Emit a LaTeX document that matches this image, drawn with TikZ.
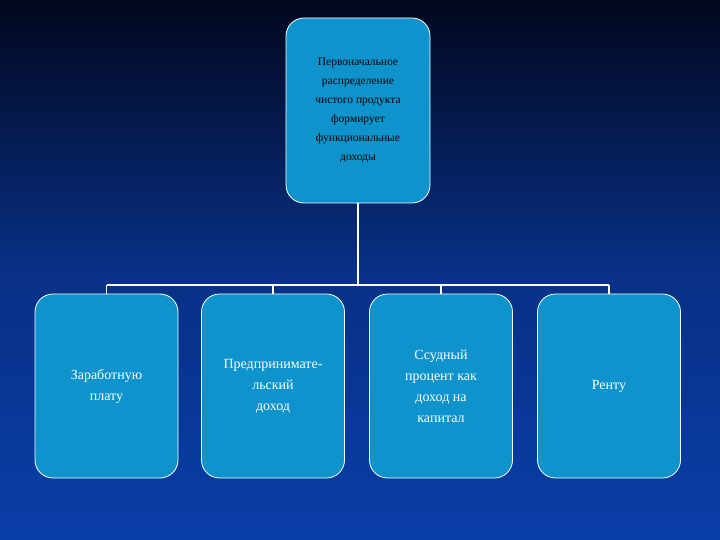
\documentclass[tikz,border=0pt]{standalone}
\usepackage{fontspec}
\setmainfont{Liberation Serif}
\begin{document}
\begin{tikzpicture}[x=1pt,y=-1pt,
 box/.style={draw=white,line width=0.8pt,fill=boxfill,rounded corners=18pt,align=center,inner sep=0pt},
 conn/.style={draw=white,line width=1.3pt}]
\definecolor{boxfill}{HTML}{0E93CC}
\definecolor{bgtop}{HTML}{02071E}
\definecolor{bgbot}{HTML}{0A3EA8}
\shade[top color=bgtop,bottom color=bgbot,middle color=bgbot!75!bgtop,shading angle=0] (0,0) rectangle (720,540);
\useasboundingbox (0,0) rectangle (720,540);
\node[box,minimum width=144pt,minimum height=185pt,font=\fontsize{11.5}{19}\selectfont,text=black] (top) at (358,110.5) {Первоначальное\\распределение\\чистого продукта\\формирует\\функциональные\\доходы};
\tikzset{bb/.style={box,minimum width=143pt,minimum height=184pt,font=\fontsize{14}{21}\selectfont,text=white}}
\node[bb] (a) at (106.5,386) {Заработную\\плату};
\node[bb] (b) at (273,386) {Предпринимате-\\льский\\доход};
\node[bb] (c) at (441,386) {Ссудный\\процент как\\доход на\\капитал};
\node[bb] (d) at (609,386) {Ренту};
\coordinate (hl) at (106.5,285);
\coordinate (hr) at (609,285);
\draw[conn] (top.south) -- (top.south |- hl);
\draw[conn] (hl) -- (hr);
\foreach \n in {a,b,c,d} \draw[conn] (\n.north |- hl) -- (\n.north);
\end{tikzpicture}
\end{document}
